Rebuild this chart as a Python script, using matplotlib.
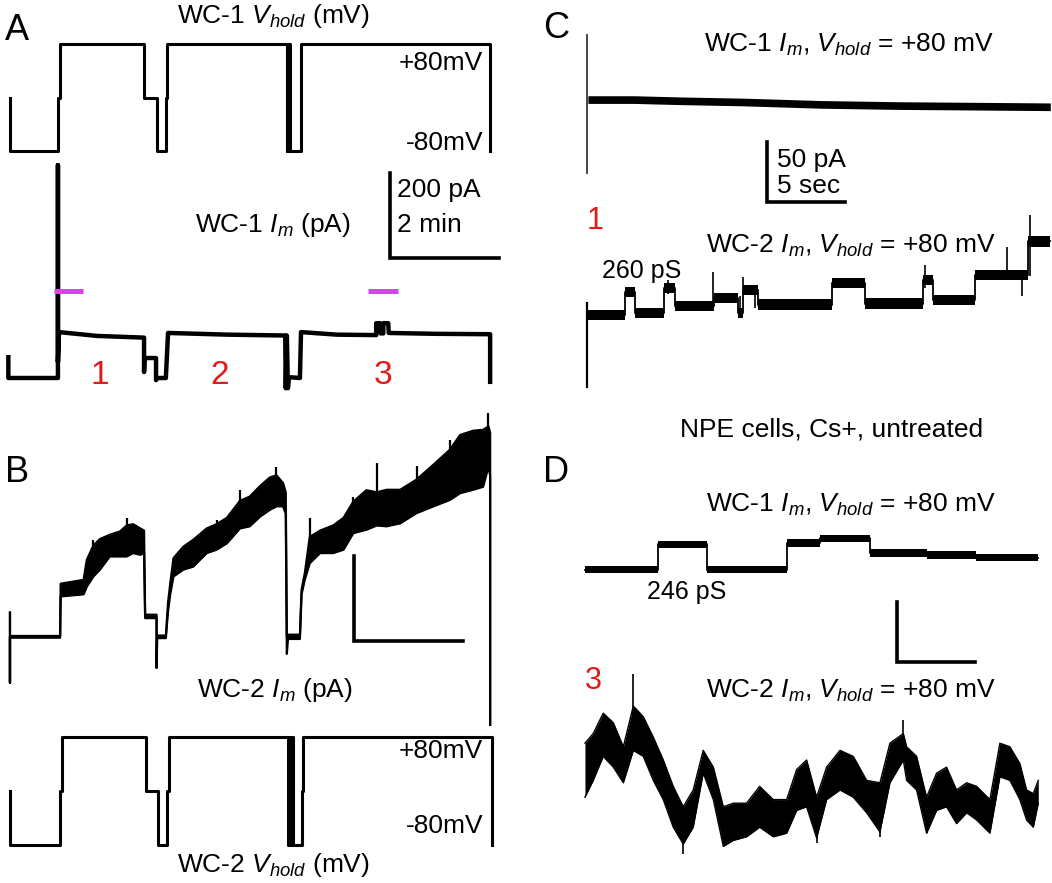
import numpy as np
import matplotlib
matplotlib.use('Agg')
import matplotlib.pyplot as plt

plt.rcParams['font.family'] = ['Liberation Sans', 'DejaVu Sans']
plt.rcParams['mathtext.fontset'] = 'custom'
plt.rcParams['mathtext.rm'] = 'Liberation Sans'
plt.rcParams['mathtext.it'] = 'Liberation Sans:italic'

# ---------------- data ----------------
# A: WC-1 holding potential (min, mV), step trace
av_t = [0, 0, 0.887, 0.917, 2.465, 2.69, 2.857, 2.89, 5.077, 5.087, 5.097, 5.107, 5.117, 5.127, 5.137, 5.34, 8.807, 8.807]
av_v = [0, -80, 0, 80, 0, -80, 0, 80, -80, 80, -80, 80, -80, 80, -80, 80, -80, -80]

# A: WC-1 membrane current (min, pA)
ai_t = [-0.03, -0.03, 0.88, 0.88, 0.88, 0.90, 1.60, 2.46, 2.46, 2.47, 2.68, 2.68, 2.70, 2.86,
        2.90, 4.00, 5.05, 5.06, 5.08, 5.10, 5.12, 5.32, 5.34, 6.00, 6.72, 6.72, 6.79, 6.80,
        6.85, 6.85, 6.94, 6.95, 7.80, 8.81, 8.81]
ai_i = [49, 0, 0, 501, 38, 108, 99, 95, 14, 47, 47, -5, 0, 0,
        106, 102, 100, -24, 100, -24, 2, 0, 108, 102, 101, 129, 129, 105,
        105, 129, 129, 106, 104, 103, -9]

# B: WC-2 membrane current, lower / upper edge of the dense noise band (min, pA)
bi_t = [0.00, 0.00, 0.00, 0.92, 0.93, 1.35, 1.41, 1.53, 1.65, 1.83, 2.02, 2.14, 2.26, 2.39, 2.46,
        2.48, 2.69, 2.69, 2.70, 2.86, 2.90, 2.94, 3.00, 3.18, 3.36, 3.61, 3.79, 3.98, 4.22, 4.40,
        4.59, 4.77, 4.89, 5.01, 5.06, 5.08, 5.10, 5.32, 5.35, 5.41, 5.50, 5.69, 5.93, 6.12, 6.30,
        6.54, 6.73, 6.91, 7.16, 7.46, 7.77, 8.07, 8.26, 8.50, 8.68, 8.78, 8.81, 8.81]
bi_lo = [57, -108, -2, -2, 95, 100, 118, 142, 158, 189, 189, 189, 197, 193, 197,
         44, 44, -73, -3, -3, 60, 100, 142, 158, 165, 197, 205, 220, 255, 260,
         283, 299, 307, 307, 290, -40, -5, -5, 100, 135, 173, 197, 197, 205, 244,
         252, 262, 260, 267, 291, 307, 322, 338, 346, 353, 400, 380, -207]
bi_hi = [57, -108, 2, 2, 125, 134, 181, 215, 230, 240, 248, 262, 265, 255, 250,
         52, 52, -73, 3, 3, 80, 125, 185, 212, 228, 255, 265, 280, 320, 330,
         355, 375, 380, 362, 340, 0, 5, 5, 111, 150, 235, 250, 262, 280, 318,
         345, 340, 346, 346, 370, 405, 440, 475, 485, 487, 495, 480, -207]
# B: narrow spikes above the band (min, pA)
bi_spk_t = [1.53, 2.14, 3.79, 4.22, 4.89, 5.50, 6.30, 6.73, 7.46, 8.07, 8.78]
bi_spk_hi = [228, 279, 275, 346, 400, 280, 330, 409, 401, 464, 526]

# B: WC-2 holding potential (min, mV)
bv_t = [0, 0, 0.917, 0.95, 2.49, 2.71, 2.875, 2.92, 5.10, 5.115, 5.13, 5.145, 5.16, 5.175, 5.19, 5.35, 5.38, 8.84, 8.84]
bv_v = [0, -80, 0, 80, 0, -80, 0, 80, -80, 80, -80, 80, -80, 80, -80, 0, 80, -80, -80]

# C: WC-1 current at +80 mV (s, pA)
c1_t = [0.06, 3, 6, 10, 15, 20, 25, 29.7]
c1_mid = [67, 67, 66, 65, 63, 62, 61.5, 61]
c1_start = [6, 121]

# C: WC-2 current at +80 mV, single channel steps (s, pA)
c2_edges = [0.06, 2.44, 3.08, 4.94, 5.64, 8.15, 9.68, 10.0, 10.96, 15.71, 17.82, 21.54, 22.18, 24.87, 28.3, 29.68]
c2_levels = [62.5, 81.7, 64.2, 85.0, 70.0, 76.7, 64.2, 83.3, 71.0, 89.2, 72.0, 91.7, 75.0, 95.8, 124]
c2_start = [2.5, 72.5]
c2_spk_t = [5.2, 8.1, 9.8, 10.0, 10.8, 21.7, 26.9, 27.9, 28.4]
c2_spk_lo = [80, 70, 62, 80, 68, 85, 95, 78, 95]
c2_spk_hi = [92, 98, 78, 94, 86, 104, 119, 97, 146]

# D: WC-1 current at +80 mV (s, pA)
d1_edges = [0.0, 4.70, 7.80, 12.93, 15.06, 18.27, 21.9, 25.1, 29.06]
d1_levels = [42, 63, 42, 64, 68, 56, 54, 52]

# D: WC-2 current at +80 mV, noisy trace edges (s, pA)
d2_t = [0.0, 0.53, 1.17, 1.82, 2.46, 3.10, 3.74, 4.38, 5.02, 5.66, 6.30, 6.94, 7.58, 8.23, 8.87,
        9.51, 10.36, 11.2, 12.07, 12.93, 13.57, 14.21, 14.85, 15.49, 16.35, 17.2, 18.06, 18.91,
        19.55, 20.41, 20.62, 21.26, 21.9, 22.54, 23.18, 23.82, 24.47, 25.11, 25.96, 26.6, 27.24,
        27.88, 28.31, 28.74, 29.06]
d2_lo = [69, 83, 103, 94, 81, 108, 103, 83, 67, 44, 30, 44, 89, 67, 28,
         33, 36, 44, 36, 39, 58, 61, 35, 67, 75, 69, 56, 40,
         81, 100, 83, 75, 39, 58, 61, 47, 56, 50, 39, 86, 83,
         67, 50, 44, 64]
d2_hi = [114, 122, 139, 131, 111, 145, 136, 119, 100, 78, 61, 75, 108, 94, 61,
         64, 64, 78, 67, 67, 92, 100, 69, 94, 108, 103, 83, 81,
         114, 122, 111, 103, 69, 89, 94, 75, 81, 78, 67, 114, 111,
         97, 75, 72, 83]
d2_spk_t = [3.10, 6.30, 14.85, 18.91, 20.41, 21.9]
d2_spk_lo = [108, 22, 31, 36, 100, 39]
d2_spk_hi = [172, 61, 69, 81, 133, 69]

W, H = 1052, 883
RED = '#e31a1c'
MAG = '#e040e0'
FS = 19

fig = plt.figure(figsize=(W / 100, H / 100), dpi=100)


def trace_axes(left, top, right, bottom, xlim, ylim):
    ax = fig.add_axes([left / W, 1 - bottom / H, (right - left) / W, (bottom - top) / H])
    ax.set_xlim(xlim)
    ax.set_ylim(ylim)
    ax.axis('off')
    ax.patch.set_alpha(0)
    return ax


def scale_bar(ax, x0, y0, dx, dy):
    ax.plot([x0, x0, x0 + dx], [y0 + dy, y0, y0], color='k', lw=2.6,
            solid_joinstyle='miter', clip_on=False)


def steps(edges, levels):
    xs = np.repeat(edges, 2)[1:-1]
    ys = np.repeat(levels, 2)
    return xs, ys


left_x = (-0.183, 9.358)

# ---- A: holding potential WC-1
ax = trace_axes(0, 30, 520, 165, left_x, (-101.25, 101.25))
ax.plot(av_t, av_v, drawstyle='steps-post', color='k', lw=2.2, clip_on=False)
ax.text(4.83, 112, r'WC-1 $V_{hold}$ (mV)', ha='center', va='baseline', fontsize=FS)
ax.text(8.68, 41, '+80mV', ha='right', va='baseline', fontsize=FS)
ax.text(8.68, -79, '-80mV', ha='right', va='baseline', fontsize=FS)

# ---- A: membrane current WC-1
ax = trace_axes(0, 160, 520, 395, left_x, (-40, 513))
ax.plot(ai_t, ai_i, color='k', lw=3.2, clip_on=False)
ax.plot([0.81, 1.34], [205, 205], color=MAG, lw=3.6, solid_capstyle='butt')
ax.plot([6.57, 7.12], [205, 205], color=MAG, lw=3.6, solid_capstyle='butt')
for lab, tx in zip(['1', '2', '3'], [1.65, 3.85, 6.84]):
    ax.text(tx, -15, lab, color=RED, ha='center', va='baseline', fontsize=24)
ax.text(4.83, 344, r'WC-1 $I_m$ (pA)', ha='center', va='baseline', fontsize=FS)
scale_bar(ax, 6.97, 282, 2, 200)
ax.text(7.10, 426, '200 pA', ha='left', va='baseline', fontsize=FS)
ax.text(7.10, 344, '2 min', ha='left', va='baseline', fontsize=FS)

# ---- B: membrane current WC-2
ax = trace_axes(0, 395, 520, 735, left_x, (-231, 569))
ax.fill_between(bi_t, bi_lo, bi_hi, color='k', lw=0)
ax.plot(bi_t, bi_lo, color='k', lw=1.6, clip_on=False)
ax.plot(bi_t, bi_hi, color='k', lw=1.6, clip_on=False)
ax.vlines(bi_spk_t, np.interp(bi_spk_t, bi_t, bi_lo), bi_spk_hi, color='k', lw=1.6)
scale_bar(ax, 6.31, -9, 2, 200)
ax.text(4.86, -141, r'WC-2 $I_m$ (pA)', ha='center', va='baseline', fontsize=FS)

# ---- B: holding potential WC-2
ax = trace_axes(0, 725, 520, 883, left_x, (-136.3, 97.8))
ax.plot(bv_t, bv_v, drawstyle='steps-post', color='k', lw=2.2, clip_on=False)
ax.text(8.68, 49, '+80mV', ha='right', va='baseline', fontsize=FS)
ax.text(8.68, -62, '-80mV', ha='right', va='baseline', fontsize=FS)
ax.text(4.84, -120, r'WC-2 $V_{hold}$ (mV)', ha='center', va='baseline', fontsize=FS)

# ---- C: WC-1 at +80 mV
c_x = (-1.73, 29.81)
ax = trace_axes(560, 0, 1052, 215, c_x, (-29.2, 150))
ax.plot([0, 0], c1_start, color='#444444', lw=1.4)
c1_lo = np.array(c1_mid) - 3.2
c1_hi = np.array(c1_mid) + 3.2
ax.fill_between(c1_t, c1_lo, c1_hi, color='k', lw=0)
ax.text(16.8, 107, r'WC-1 $I_m$, $V_{hold}$ = +80 mV', ha='center', va='baseline', fontsize=FS)
scale_bar(ax, 11.54, -18.3, 5, 50)
ax.text(12.2, 10.8, '50 pA', ha='left', va='baseline', fontsize=FS)
ax.text(12.2, -10.8, '5 sec', ha='left', va='baseline', fontsize=FS)

# ---- C: WC-2 at +80 mV
ax = trace_axes(560, 200, 1052, 400, c_x, (-8.33, 158.3))
ax.plot([0, 0], c2_start, color='k', lw=1.6)
sx, sy = steps(c2_edges, c2_levels)
ax.fill_between(sx, sy - 4.5, sy + 4.5, color='k', lw=0)
ax.plot(sx, sy, color='k', lw=1.3)
ax.vlines(c2_spk_t, c2_spk_lo, c2_spk_hi, color='k', lw=1.2)
ax.text(16.9, 114, r'WC-2 $I_m$, $V_{hold}$ = +80 mV', ha='center', va='baseline', fontsize=FS)
ax.text(0.96, 93, '260 pS', ha='left', va='baseline', fontsize=18)
ax.text(0.0, 134, '1', color=RED, ha='left', va='baseline', fontsize=22)

# ---- D: WC-1 at +80 mV
d_x = (-1.60, 29.94)
ax = trace_axes(560, 400, 1052, 680, d_x, (-50, 183.3))
sx, sy = steps(d1_edges, d1_levels)
ax.fill_between(sx, sy - 3.2, sy + 3.2, color='k', lw=0)
ax.plot(sx, sy, color='k', lw=1.3)
ax.text(15.8, 153, 'NPE cells, Cs+, untreated', ha='center', va='baseline', fontsize=FS)
ax.text(17.05, 90, r'WC-1 $I_m$, $V_{hold}$ = +80 mV', ha='center', va='baseline', fontsize=FS)
ax.text(3.97, 17.5, '246 pS', ha='left', va='baseline', fontsize=18)
scale_bar(ax, 20.0, -35, 5, 50)

# ---- D: WC-2 at +80 mV
ax = trace_axes(560, 660, 1052, 883, d_x, (-2.5, 183.3))
ax.fill_between(d2_t, d2_lo, d2_hi, color='k', lw=0)
ax.plot(d2_t, d2_lo, color='k', lw=1.0)
ax.plot(d2_t, d2_hi, color='k', lw=1.0)
ax.vlines(d2_spk_t, d2_spk_lo, d2_spk_hi, color='k', lw=1.2)
ax.text(17.05, 152, r'WC-2 $I_m$, $V_{hold}$ = +80 mV', ha='center', va='baseline', fontsize=FS)
ax.text(0.0, 159, '3', color=RED, ha='left', va='baseline', fontsize=22)

# panel letters
for lab, px, py in [('A', 5, 40), ('B', 5, 482), ('C', 543, 38), ('D', 543, 482)]:
    fig.text(px / W, 1 - py / H, lab, fontsize=26, ha='left', va='baseline')

fig.savefig('out.png', dpi=100)
